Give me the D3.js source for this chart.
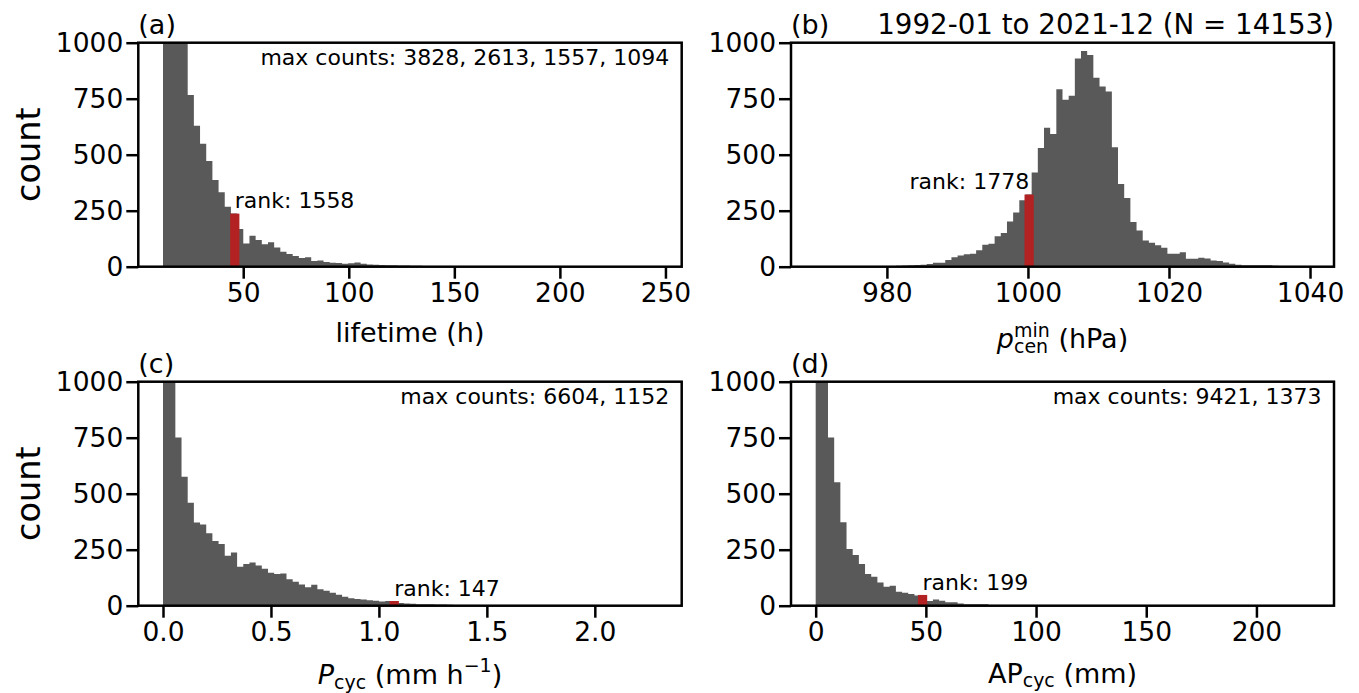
<!DOCTYPE html>
<html>
<head>
<meta charset="utf-8">
<script src="https://cdn.jsdelivr.net/npm/d3@7"></script>
<style>
  html, body { margin: 0; padding: 0; background: #fff; }
  svg text { font-family: "DejaVu Sans", sans-serif; fill: #000; }
</style>
</head>
<body>
<svg id="chart" width="1359" height="693"></svg>
<script>
// ---------------- DATA ----------------
// (a) lifetime (h): 80 bins between data min and max
const lifetimeRange = [12, 246];
const lifetimeCounts = [3828, 2613, 1557, 1094, 766, 629, 549, 472, 387, 332,
  268, 237, 168, 104, 138, 119, 100, 109, 86, 67,
  57, 48, 39, 42, 25, 28, 21, 18, 16, 13,
  15, 19, 13, 10, 9, 8, 7, 6, 5, 5,
  4, 4, 3, 3, 2, 2, 2, 1, 1, 1,
  1, 0, 1, 0, 0, 1, 0, 0, 0, 0,
  1, 0, 0, 0, 0, 0, 0, 0, 1, 0,
  0, 0, 0, 0, 0, 0, 0, 0, 0, 1];
const lifetimeRank = { center: 46, count: 237, label: "rank: 1558" };
const lifetimeMax = "max counts: 3828, 2613, 1557, 1094";
const lifetimeTicks = [50, 100, 150, 200, 250];

// (b) minimum central pressure (hPa)
const pcenRange = [969.9, 1039.9];
const pcenCounts = [1, 0, 0, 1, 0, 1, 1, 1, 1, 2,
  2, 2, 3, 4, 5, 6, 8, 9, 12, 18,
  18, 30, 42, 50, 56, 58, 73, 98, 102, 136,
  150, 202, 242, 297, 322, 421, 530, 620, 592, 792,
  745, 763, 930, 963, 945, 843, 804, 782, 533, 369,
  307, 199, 162, 117, 107, 96, 85, 58, 58, 64,
  36, 36, 40, 37, 28, 25, 19, 13, 9, 7,
  7, 6, 7, 6, 4, 3, 2, 2, 1, 1];
const pcenRank = { center: 1000.17, count: 322, label: "rank: 1778" };
const pcenTicks = [980, 1000, 1020, 1040];
const pcenTitle = "1992-01 to 2021-12 (N = 14153)";

// (c) P_cyc (mm/h)
const pcycRange = [0, 2.288];
const pcycCounts = [6604, 1152, 751, 576, 460, 371, 362, 323, 289, 275,
  223, 238, 174, 186, 193, 179, 165, 147, 141, 144,
  118, 107, 95, 82, 94, 73, 67, 58, 49, 40,
  33, 30, 28, 24, 22, 19, 21, 20, 12, 10,
  9, 7, 7, 6, 5, 5, 4, 3, 3, 2,
  2, 1, 1, 1, 1, 0, 1, 0, 0, 0,
  1, 0, 0, 0, 0, 0, 0, 0, 0, 0,
  0, 0, 0, 0, 0, 0, 0, 0, 0, 1];
const pcycRank = { center: 1.071, count: 21, label: "rank: 147" };
const pcycMax = "max counts: 6604, 1152";
const pcycTicks = [0.0, 0.5, 1.0, 1.5, 2.0];

// (d) AP_cyc (mm)
const apRange = [0, 224];
const apCounts = [9421, 1373, 751, 551, 372, 253, 226, 186, 141, 129,
  104, 85, 89, 62, 58, 52, 45, 48, 21, 28,
  22, 15, 15, 10, 6, 7, 6, 6, 3, 3,
  2, 2, 1, 1, 1, 1, 0, 1, 0, 0,
  0, 1, 0, 0, 0, 0, 0, 0, 1, 0,
  0, 0, 0, 0, 0, 0, 0, 0, 0, 0,
  0, 0, 0, 0, 0, 0, 0, 0, 0, 0,
  0, 0, 0, 0, 0, 0, 0, 0, 0, 1];
const apRank = { center: 48.5, count: 48, label: "rank: 199" };
const apMax = "max counts: 9421, 1373";
const apTicks = [0, 50, 100, 150, 200];

const yTicks = [0, 250, 500, 750, 1000];
const yLabel = "count";

// ---------------- DRAWING ----------------
const svg = d3.select("#chart");
const GREY = "#595959", RED = "#b22222";
const TICK_FS = 26.5, LABEL_FS = 27, ANN_FS = 22, SMALL_FS = 19;

function richLabel(parent, segments, cx, baseline) {
  const g = parent.append("g");
  let cursor = 0, prevX = 0, prevW = 0;
  segments.forEach(s => {
    const x = s.stack ? prevX : cursor;
    const t = g.append("text")
      .attr("x", x)
      .attr("y", baseline + (s.shift || 0))
      .style("font-size", (s.size || LABEL_FS) + "px")
      .style("white-space", "pre")
      .style("font-style", s.italic ? "italic" : "normal")
      .text(s.t);
    const w = t.node().getComputedTextLength();
    if (s.stack) {
      cursor = prevX + Math.max(prevW, w);
    } else {
      prevX = x; prevW = w;
      cursor = x + w;
    }
  });
  g.attr("transform", `translate(${cx - cursor / 2},0)`);
  return g;
}

let clipId = 0;
function panel(cfg) {
  const { left, right, top, bottom } = cfg.box;
  const R = cfg.range[1] - cfg.range[0];
  const x = d3.scaleLinear()
    .domain([cfg.range[0] - 0.05 * R, cfg.range[1] + 0.05 * R])
    .range([left, right]);
  const y = d3.scaleLinear().domain([0, 1000]).range([bottom, top]);
  const n = cfg.counts.length;
  const bw = R / n;

  const id = "clip" + (clipId++);
  svg.append("clipPath").attr("id", id)
    .append("rect").attr("x", left).attr("y", top)
    .attr("width", right - left).attr("height", bottom - top);

  const g = svg.append("g");
  const plot = g.append("g").attr("clip-path", `url(#${id})`);

  const pts = cfg.counts.map((c, i) => ({ e: cfg.range[0] + i * bw, c }));
  pts.push({ e: cfg.range[1], c: cfg.counts[n - 1] });
  const area = d3.area()
    .x(d => x(d.e)).y0(y(0)).y1(d => y(d.c))
    .curve(d3.curveStepAfter);
  plot.append("path").datum(pts).attr("d", area).attr("fill", GREY);

  // highlighted bin
  const r = cfg.rank;
  plot.append("rect")
    .attr("x", x(r.center - 0.75 * bw))
    .attr("width", x(r.center + 0.75 * bw) - x(r.center - 0.75 * bw))
    .attr("y", y(r.count))
    .attr("height", y(0) - y(r.count))
    .attr("fill", RED);

  // rank label
  g.append("text")
    .attr("x", x(r.center))
    .attr("y", y(r.count) - 5.2)
    .attr("text-anchor", cfg.rankAnchor)
    .style("font-size", ANN_FS + "px")
    .text(r.label);

  // max counts text
  if (cfg.maxText) {
    g.append("text")
      .attr("x", right - 12.5)
      .attr("y", top + 22.3)
      .attr("text-anchor", "end")
      .style("font-size", ANN_FS + "px")
      .text(cfg.maxText);
  }

  // axes
  const xAxis = d3.axisBottom(x).tickValues(cfg.xticks)
    .tickSize(12).tickPadding(4.5).tickFormat(cfg.fmt);
  const ax = g.append("g").attr("transform", `translate(0,${bottom})`).call(xAxis);
  const yAxis = d3.axisLeft(y).tickValues(yTicks)
    .tickSize(12).tickPadding(3).tickFormat(d3.format("d"));
  const ay = g.append("g").attr("transform", `translate(${left},0)`).call(yAxis);
  [ax, ay].forEach(a => {
    a.select(".domain").remove();
    a.selectAll(".tick line").attr("stroke", "#000").attr("stroke-width", 2.5);
    a.selectAll(".tick text").style("font-size", TICK_FS + "px")
      .style("font-family", "DejaVu Sans").attr("fill", "#000");
  });

  // frame
  g.append("rect")
    .attr("x", left).attr("y", top)
    .attr("width", right - left).attr("height", bottom - top)
    .attr("fill", "none").attr("stroke", "#000").attr("stroke-width", 2.5);

  // panel letter
  g.append("text").attr("x", left).attr("y", top - 8.7)
    .style("font-size", LABEL_FS + "px").text(cfg.letter);
  if (cfg.title) {
    g.append("text").attr("x", right).attr("y", top - 8.7)
      .attr("text-anchor", "end")
      .style("font-size", "27.7px").text(cfg.title);
  }

  // x label
  richLabel(g, cfg.xlabel, (left + right) / 2, bottom + cfg.xlabelOffset);

  // y label
  if (cfg.ylabel) {
    g.append("text")
      .attr("transform", `translate(40,${(top + bottom) / 2}) rotate(-90)`)
      .attr("text-anchor", "middle")
      .style("font-size", "33.5px")
      .text(cfg.ylabel);
  }
}

const boxA = { left: 138.3, right: 681.7, top: 42.7, bottom: 266.7 };
const boxB = { left: 791, right: 1334, top: 42.7, bottom: 266.7 };
const boxC = { left: 138.3, right: 681.7, top: 381.7, bottom: 605.7 };
const boxD = { left: 791, right: 1334, top: 381.7, bottom: 605.7 };

panel({
  box: boxA, range: lifetimeRange, counts: lifetimeCounts, rank: lifetimeRank,
  rankAnchor: "start", maxText: lifetimeMax, xticks: lifetimeTicks, fmt: d3.format("d"),
  letter: "(a)", ylabel: yLabel, xlabelOffset: 75.5,
  xlabel: [{ t: "lifetime (h)" }]
});
panel({
  box: boxB, range: pcenRange, counts: pcenCounts, rank: pcenRank,
  rankAnchor: "end", xticks: pcenTicks, fmt: d3.format("d"),
  letter: "(b)", title: pcenTitle, xlabelOffset: 81.6,
  xlabel: [{ t: "p", italic: true }, { t: "min", size: SMALL_FS, shift: -11.8 },
           { t: "cen", size: SMALL_FS, shift: 5, stack: true }, { t: " (hPa)" }]
});
panel({
  box: boxC, range: pcycRange, counts: pcycCounts, rank: pcycRank,
  rankAnchor: "start", maxText: pcycMax, xticks: pcycTicks, fmt: d3.format(".1f"),
  letter: "(c)", ylabel: yLabel, xlabelOffset: 78.3,
  xlabel: [{ t: "P", italic: true }, { t: "cyc", size: SMALL_FS, shift: 4.5 },
           { t: " (mm h" }, { t: "\u22121", size: SMALL_FS, shift: -11.6 }, { t: ")" }]
});
panel({
  box: boxD, range: apRange, counts: apCounts, rank: apRank,
  rankAnchor: "start", maxText: apMax, xticks: apTicks, fmt: d3.format("d"),
  letter: "(d)", xlabelOffset: 77,
  xlabel: [{ t: "AP" }, { t: "cyc", size: SMALL_FS, shift: 4.5 }, { t: " (mm)" }]
});
</script>
</body>
</html>
